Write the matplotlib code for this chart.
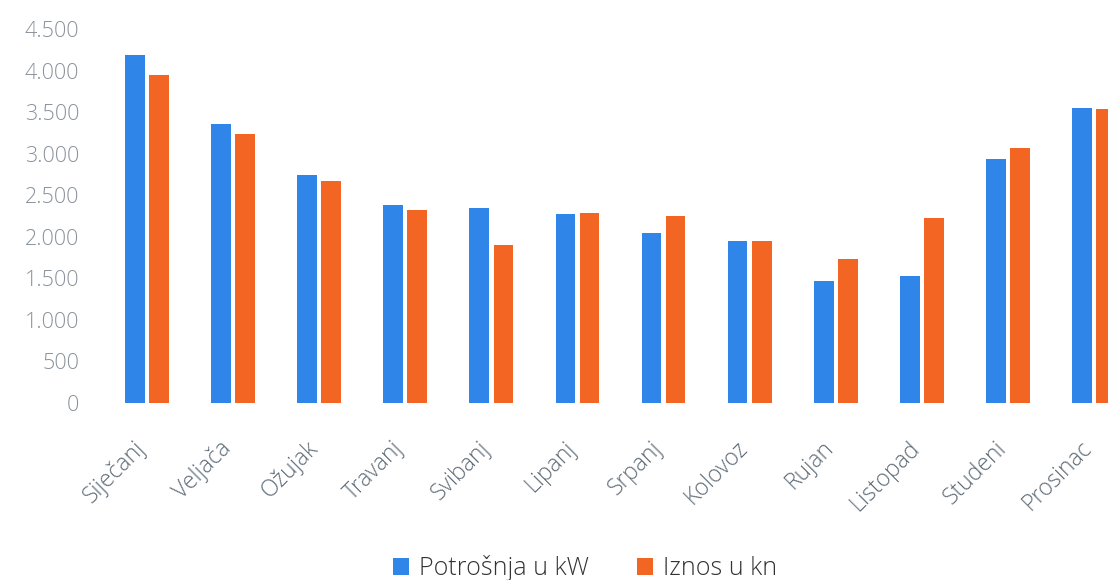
import matplotlib
matplotlib.use("Agg")
import matplotlib.pyplot as plt
import numpy as np
from matplotlib.ticker import FuncFormatter, MultipleLocator
from matplotlib.patches import Patch
from matplotlib import font_manager
import matplotlib.transforms as mtransforms

months = ["Siječanj", "Veljača", "Ožujak", "Travanj", "Svibanj", "Lipanj",
          "Srpanj", "Kolovoz", "Rujan", "Listopad", "Studeni", "Prosinac"]
potrosnja_kw = [4190, 3355, 2745, 2385, 2345, 2275, 2045, 1950, 1470, 1530, 2940, 3555]
iznos_kn = [3945, 3235, 2670, 2325, 1905, 2290, 2250, 1945, 1735, 2230, 3070, 3540]
series_names = ["Potrošnja u kW", "Iznos u kn"]
colors = ["#2F86E8", "#F26522"]

plt.rcParams['font.family'] = ['Open Sans', 'DejaVu Sans']
weights = sorted({f.weight for f in font_manager.fontManager.ttflist if f.name == 'Open Sans'}, key=str)
light = 300 if any(str(w) in ('300', 'light') for w in weights) else 'normal'

fig = plt.figure(figsize=(11.08, 5.80), dpi=100)
ax = fig.add_axes([104/1108, 1-403/580, (1137-104)/1108, (403-29)/580])

x = np.arange(len(months))
w = 0.23
off = 0.14
ax.bar(x - off, potrosnja_kw, width=w, color=colors[0])
ax.bar(x + off, iznos_kn, width=w, color=colors[1])

ax.set_xlim(-0.5, len(months) - 0.5)
ax.set_ylim(0, 4500)
ax.yaxis.set_major_locator(MultipleLocator(500))
ax.yaxis.set_major_formatter(FuncFormatter(lambda v, p: f"{int(v):,}".replace(",", ".")))

for s in ax.spines.values():
    s.set_visible(False)
ax.tick_params(axis='y', length=0, labelsize=15.5, labelcolor="#8A929B", pad=18)
ax.tick_params(axis='x', length=0, labelsize=16.5, labelcolor="#5E6B76", pad=30)
ax.set_xticks(x)
ax.set_xticklabels(months, rotation=45, ha='right', va='center', rotation_mode='anchor')
shift = mtransforms.ScaledTranslation(-5/100, 0, fig.dpi_scale_trans)
for lbl in ax.get_xticklabels():
    lbl.set_transform(lbl.get_transform() + shift)
    lbl.set_fontweight(light)
for lbl in ax.get_yticklabels():
    lbl.set_fontweight(light)

handles = [Patch(facecolor=c, edgecolor='none') for c in colors]
fig.legend(handles, series_names, loc='center', bbox_to_anchor=(0.528, 1-568/580),
           ncol=2, frameon=False, prop={'size': 18, 'weight': light},
           handlelength=0.65, handleheight=0.65,
           handletextpad=0.4, columnspacing=1.9, labelcolor="#333333")

fig.savefig("out.png", dpi=100)
